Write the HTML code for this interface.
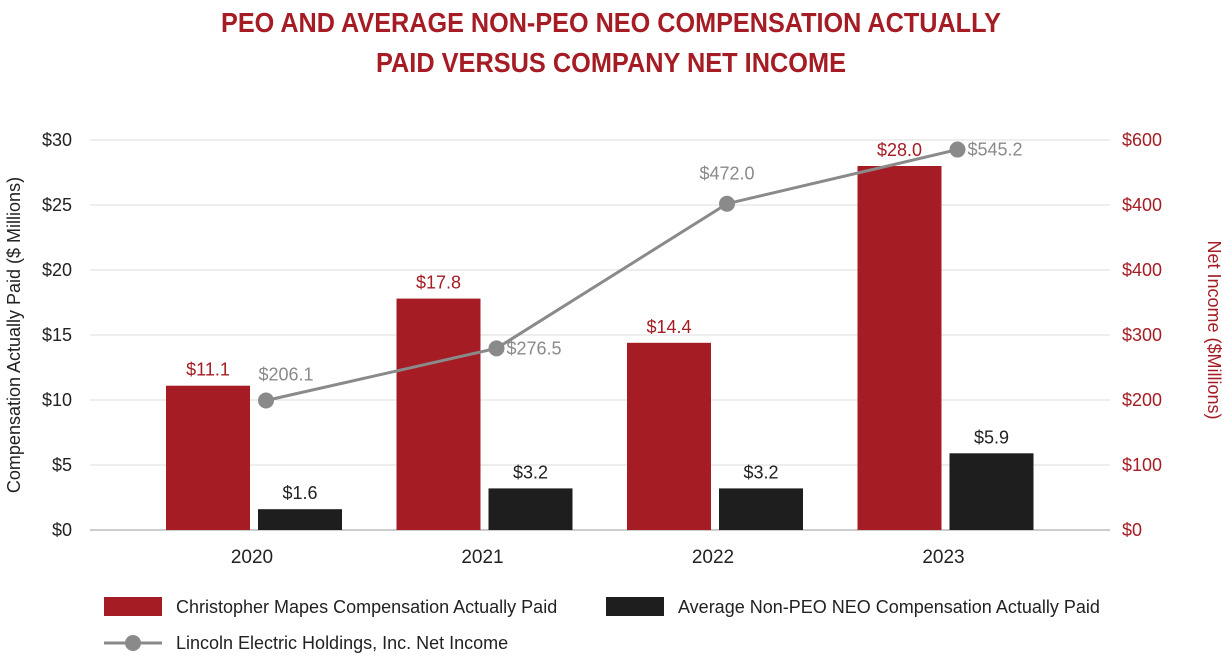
<!DOCTYPE html>
<html><head><meta charset="utf-8"><style>
body{margin:0;background:#fff;width:1222px;height:658px;overflow:hidden;font-family:"Liberation Sans",sans-serif}
</style></head><body>
<svg id="chart" width="1222" height="658" viewBox="0 0 1222 658" xmlns="http://www.w3.org/2000/svg">
<text x="611" y="32" text-anchor="middle" font-size="28" font-weight="bold" fill="#a51c24" textLength="780" lengthAdjust="spacingAndGlyphs">PEO AND AVERAGE NON-PEO NEO COMPENSATION ACTUALLY</text>
<text x="611" y="72" text-anchor="middle" font-size="28" font-weight="bold" fill="#a51c24" textLength="470" lengthAdjust="spacingAndGlyphs">PAID VERSUS COMPANY NET INCOME</text>
<g id="grid"></g><g id="bars"></g><g id="line"></g><g id="axes"></g>
<text transform="translate(20,335) rotate(-90)" text-anchor="middle" font-size="18" fill="#222">Compensation Actually Paid ($ Millions)</text>
<text transform="translate(1208,330) rotate(90)" text-anchor="middle" font-size="18" fill="#a51c24">Net Income ($Millions)</text>
<g font-size="18" fill="#222">
<rect x="104" y="597" width="58" height="19" fill="#a51c24"/>
<text x="176" y="613">Christopher Mapes Compensation Actually Paid</text>
<rect x="606" y="597" width="58" height="19" fill="#1e1e1e"/>
<text x="678" y="613">Average Non-PEO NEO Compensation Actually Paid</text>
<line x1="104" y1="643" x2="162" y2="643" stroke="#8a8a8a" stroke-width="3"/>
<circle cx="133" cy="643" r="8" fill="#8a8a8a"/>
<text x="176" y="649">Lincoln Electric Holdings, Inc. Net Income</text>
</g>
</svg>
<script>
const categories=["2020","2021","2022","2023"];
const peoValues=[11.1,17.8,14.4,28.0];
const neoValues=[1.6,3.2,3.2,5.9];
const netIncome=[206.1,276.5,472.0,545.2];
const leftTicks=[0,5,10,15,20,25,30];
const rightTickLabels=["$0","$100","$200","$300","$400","$400","$600"];
const NS="http://www.w3.org/2000/svg";
function y(v){return 530-v*13;}
function y2(v){return 553-0.74*v;}
function xc(i){return 252+i*230.5;}
function mk(tag,attrs,parent,txt){const e=document.createElementNS(NS,tag);for(const k in attrs)e.setAttribute(k,attrs[k]);if(txt!==undefined)e.textContent=txt;document.getElementById(parent).appendChild(e);return e;}
leftTicks.forEach((t,i)=>{
 const g=mk("line",{x1:90,x2:1110,y1:y(t),y2:y(t),stroke:i==0?"#999":"#ddd","stroke-width":1},"grid");
 
 
 const l=mk("text",{x:72,y:y(t)+6,"text-anchor":"end","font-size":18,fill:"#222"},"axes","$"+t);
 
 
 const r=mk("text",{x:1122,y:y(t)+6,"font-size":18,fill:"#a51c24"},"axes",rightTickLabels[i]);
 
 
});
categories.forEach((c,i)=>{
 const cx=xc(i);
 const xl=mk("text",{x:cx,y:563,"text-anchor":"middle","font-size":19,fill:"#222"},"axes",c);
 
 
 const b1=mk("rect",{x:cx-86,y:y(peoValues[i]),width:84,height:530-y(peoValues[i]),fill:"#a51c24"},"bars");
 
 
 const t1=mk("text",{x:cx-44,y:y(peoValues[i])-10,"text-anchor":"middle","font-size":18,fill:"#a51c24"},"bars","$"+peoValues[i].toFixed(1));
 
 
 const b2=mk("rect",{x:cx+6,y:y(neoValues[i]),width:84,height:530-y(neoValues[i]),fill:"#1e1e1e"},"bars");
 
 
 const t2=mk("text",{x:cx+48,y:y(neoValues[i])-10,"text-anchor":"middle","font-size":18,fill:"#222"},"bars","$"+neoValues[i].toFixed(1));
 
 
});
const pts=netIncome.map((v,i)=>[xc(i)+14,y2(v)]);
const pl=mk("polyline",{points:pts.map(p=>p.join(",")).join(" "),fill:"none",stroke:"#8a8a8a","stroke-width":3},"line");


const off=[[20,-20],[10,6],[0,-24],[10,6]];
pts.forEach((p,i)=>{
 const c=mk("circle",{cx:p[0],cy:p[1],r:8,fill:"#8a8a8a"},"line");
 
 
 const a=(i==0||i==2)?"middle":"start";
 const t=mk("text",{x:p[0]+off[i][0],y:p[1]+off[i][1],"text-anchor":a,"font-size":18,fill:"#8a8a8a"},"line","$"+netIncome[i].toFixed(1));
 
 
});
</script>
</body></html>
